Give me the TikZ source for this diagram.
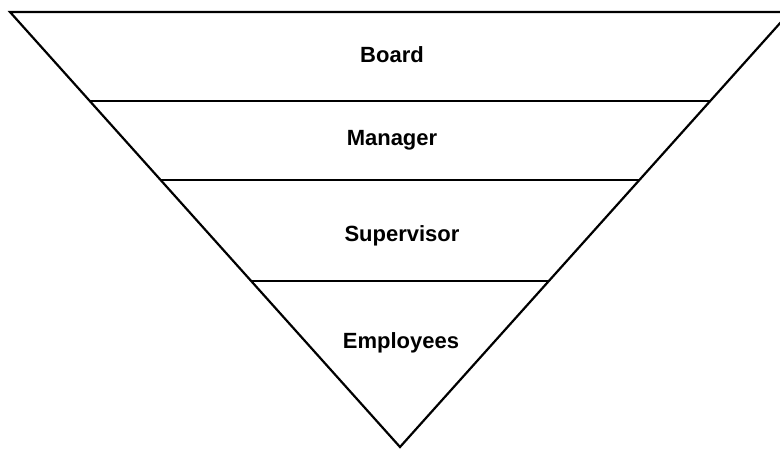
\documentclass[tikz,border=0pt]{standalone}
\usepackage{fontspec}
\setmainfont{Liberation Sans}
\usetikzlibrary{calc}
\begin{document}
\begin{tikzpicture}[x=1pt,y=-1pt,line width=2.2pt,
  level/.style={font=\bfseries\fontsize{22}{26}\selectfont,anchor=base,inner sep=0pt}]
\useasboundingbox (0,0) rectangle (780,448);
\clip (0,0) rectangle (780,448);
\coordinate (tl) at (10,12);
\coordinate (tr) at (790,12);
\coordinate (apex) at (400,447);
\draw (tl) -- (tr) -- (apex) -- cycle;
\draw ($(tl)!0.204!(apex)$) -- ($(tr)!0.204!(apex)$);
\draw ($(tl)!0.386!(apex)$) -- ($(tr)!0.386!(apex)$);
\draw ($(tl)!0.618!(apex)$) -- ($(tr)!0.618!(apex)$);
\node [level] (board) at (392,62) {Board};
\node [level] (manager) at (392,145) {Manager};
\node [level] (supervisor) at (402,241) {Supervisor};
\node [level] (employees) at (401,348) {Employees};
\end{tikzpicture}
\end{document}
